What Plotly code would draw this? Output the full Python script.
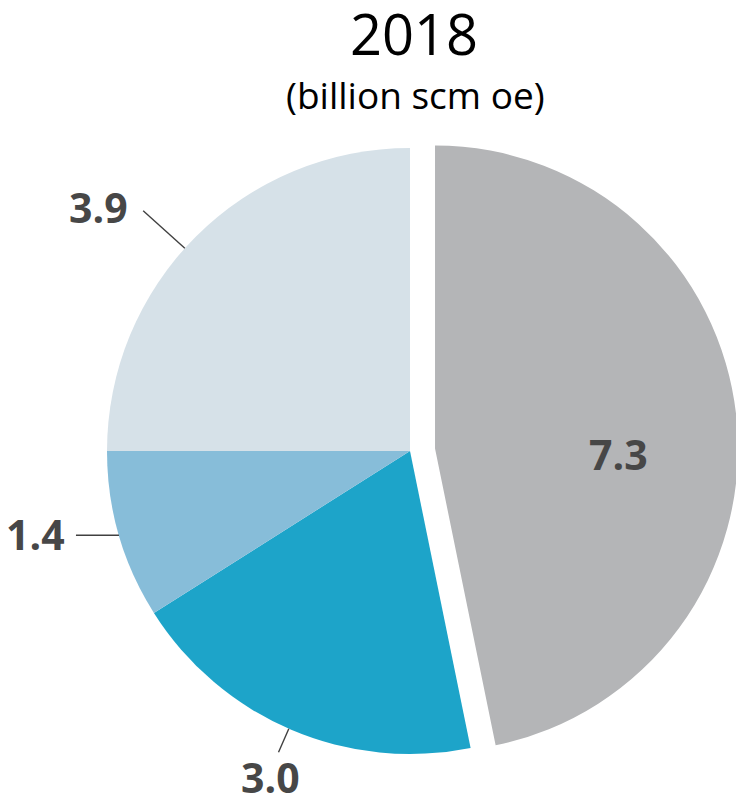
import math
import plotly.graph_objects as go

# ---- data ----
categories = ["A", "B", "C", "D"]
values = [7.3, 3.0, 1.4, 3.9]
labels_text = ["7.3", "3.0", "1.4", "3.9"]
colors = ["#b4b5b7", "#1da4c9", "#87bdd9", "#d6e1e8"]
title_text = "2018"
subtitle_text = "(billion scm oe)"

OFF = 8                 # browser body margin
W, H = 736, 793         # figure size
pull = [0.083, 0, 0, 0]

# pie geometry (window pixels)
cx, cy = 410, 451
R = 303
half = R * (1 + max(pull))


def px2paper(x, y):
    return (x - OFF) / W, 1 - (y - OFF) / H


x0d, y1d = px2paper(cx - half, cy - half)
x1d, y0d = px2paper(cx + half, cy + half)

fig = go.Figure()
fig.add_trace(go.Pie(
    labels=categories, values=values, sort=False, direction="clockwise",
    rotation=0, pull=pull,
    marker=dict(colors=colors, line=dict(width=0)),
    textinfo="none",
    domain=dict(x=[x0d, x1d], y=[y0d, y1d]), showlegend=False, hoverinfo="skip",
))

total = sum(values)
cum = 0
angles = []
for v in values:
    angles.append((cum + v / 2) / total * 2 * math.pi)
    cum += v

shapes = []
annotations = []
lab_font = dict(family="Open Sans", size=41, color="#474747")

# inside label for the pulled slice
a0 = angles[0]
pcx = cx + R * pull[0] * math.sin(a0)
pcy = cy - R * pull[0] * math.cos(a0)
lx, ly = px2paper(pcx + 0.6 * R * math.sin(a0) + 3, pcy - 0.6 * R * math.cos(a0) + 24)
annotations.append(dict(text="<b>%s</b>" % labels_text[0], x=lx, y=ly,
                        xref="paper", yref="paper", showarrow=False,
                        xanchor="center", yanchor="middle", font=lab_font))

# outside labels with leader lines: (kind, radial factor, horizontal length, angle tweak deg)
leader = {1: ("radial", 1.085, 0, 0.5), 2: ("horiz", 1.0, -43, 0), 3: ("radial", 1.185, 0, -3)}
label_off = {1: (-8, 25), 2: (-40, -1), 3: (-45, -4)}
for i in (1, 2, 3):
    kind, f, hx, tweak = leader[i]
    a = angles[i] + math.radians(tweak)
    sx = cx + R * math.sin(a)
    sy = cy - R * math.cos(a)
    if kind == "radial":
        ex = cx + R * f * math.sin(a)
        ey = cy - R * f * math.cos(a)
    else:
        ex, ey = sx + hx, sy
    X0, Y0 = px2paper(sx, sy)
    X1, Y1 = px2paper(ex, ey)
    shapes.append(dict(type="line", xref="paper", yref="paper", x0=X0, y0=Y0,
                       x1=X1, y1=Y1, line=dict(color="#404040", width=1.4)))
    lx, ly = px2paper(ex + label_off[i][0], ey + label_off[i][1])
    annotations.append(dict(text="<b>%s</b>" % labels_text[i], x=lx, y=ly,
                            xref="paper", yref="paper", showarrow=False,
                            xanchor="center", yanchor="middle", font=lab_font))

tx, ty = px2paper(414, 33)
annotations.append(dict(text=title_text, x=tx, y=ty, xref="paper", yref="paper",
                        showarrow=False, xanchor="center", yanchor="middle",
                        font=dict(family="Open Sans", size=56, color="#000000")))
sx_, sy_ = px2paper(415, 95)
annotations.append(dict(text=subtitle_text, x=sx_, y=sy_, xref="paper", yref="paper",
                        showarrow=False, xanchor="center", yanchor="middle",
                        font=dict(family="Open Sans", size=37, color="#000000")))

fig.update_layout(
    width=W, height=H, margin=dict(l=0, r=0, t=0, b=0),
    paper_bgcolor="white", plot_bgcolor="white",
    shapes=shapes, annotations=annotations,
)
fig.write_html("out.html")
